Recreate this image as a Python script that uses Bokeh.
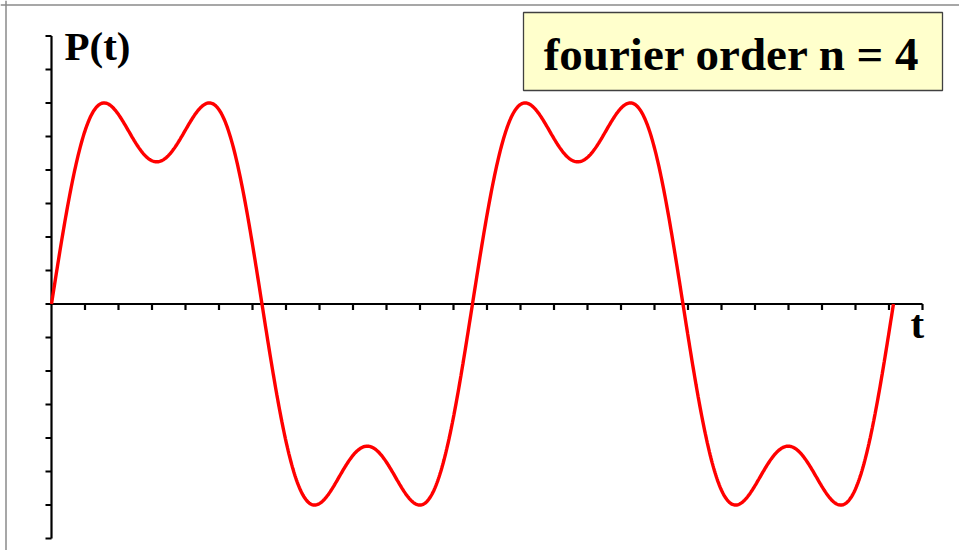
import numpy as np
from bokeh.plotting import figure
from bokeh.models import Range1d, Span, BoxAnnotation, Label
from bokeh.embed import file_html
from bokeh.resources import INLINE

# Fourier sine coefficients b_k of the square wave, terms k = 1..3 (order n = 4)
harmonics = [1, 2, 3]
coefficients = [4 / np.pi, 0.0, 4 / (3 * np.pi)]

# time window: two periods
t_start, t_end = 0.0, 4 * np.pi
t = np.linspace(t_start, t_end, 1200)
p_t = sum(b * np.sin(k * t) for k, b in zip(harmonics, coefficients))

# axis extents and tick positions
x_axis_end = 13.0
x_ticks = np.arange(0.5, 13.0 + 1e-9, 0.5)
y_axis_min, y_axis_max = -1.4, 1.6
y_ticks = np.round(np.arange(-1.4, 1.6 + 1e-9, 0.2), 2)

W, H = 959, 550
# pixel placement of the origin and scale
ox, oy = 51.0, 303.5
sx, sy = 67.0, 167.5


def px_x(px):
    return (px - ox) / sx


def px_y(py):
    return (oy - py) / sy


p = figure(width=W, height=H, output_backend="svg", toolbar_location=None,
           x_range=Range1d(px_x(0), px_x(W)), y_range=Range1d(px_y(H), px_y(0)),
           x_axis_location=None, y_axis_location=None, min_border=0)
p.outline_line_color = None
p.grid.visible = False
p.background_fill_color = "white"
p.border_fill_color = "white"

# thin grey frame on top and left
p.add_layout(Span(location=px_y(4.5), dimension="width", line_color="#8a8a8a", line_width=1.5))
p.add_layout(Span(location=px_x(5.5), dimension="height", line_color="#8a8a8a", line_width=1.5))

# axes drawn through the origin
p.segment(x0=[0], y0=[y_axis_min], x1=[0], y1=[y_axis_max], line_color="black", line_width=2.2)
p.segment(x0=[0], y0=[0], x1=[x_axis_end], y1=[0], line_color="black", line_width=2.2)

tick_len_x = 6.0 / sx
tick_len_y = 6.0 / sy
p.segment(x0=np.full(len(y_ticks), -tick_len_x), y0=y_ticks, x1=np.zeros(len(y_ticks)), y1=y_ticks,
          line_color="black", line_width=2.2)
p.segment(x0=x_ticks, y0=np.zeros(len(x_ticks)), x1=x_ticks, y1=np.full(len(x_ticks), -tick_len_y),
          line_color="black", line_width=2.2)

# the partial Fourier sum
p.line(t, p_t, line_color="#ff0000", line_width=3.4)

serif = "Liberation Serif"
p.add_layout(Label(x=px_x(64), y=px_y(45), text="P(t)", text_font=serif, text_font_style="bold",
                   text_font_size="41px", text_color="black", text_baseline="alphabetic"))
p.add_layout(Label(x=px_x(910), y=px_y(323), text="t", text_font=serif, text_font_style="bold",
                   text_font_size="41px", text_color="black", text_baseline="alphabetic"))

# title box
p.add_layout(BoxAnnotation(left=px_x(523), right=px_x(942), top=px_y(12), bottom=px_y(90),
                           fill_color="#ffffcc", fill_alpha=1.0, line_color="#404040",
                           line_alpha=1.0, line_width=1.3))
p.add_layout(Label(x=px_x(731.5), y=px_y(53), text="fourier order n = 4", text_font=serif,
                   text_font_style="bold", text_font_size="47px", text_color="black",
                   text_align="center", text_baseline="alphabetic"))

open("out.html", "w").write(file_html(p, INLINE))
